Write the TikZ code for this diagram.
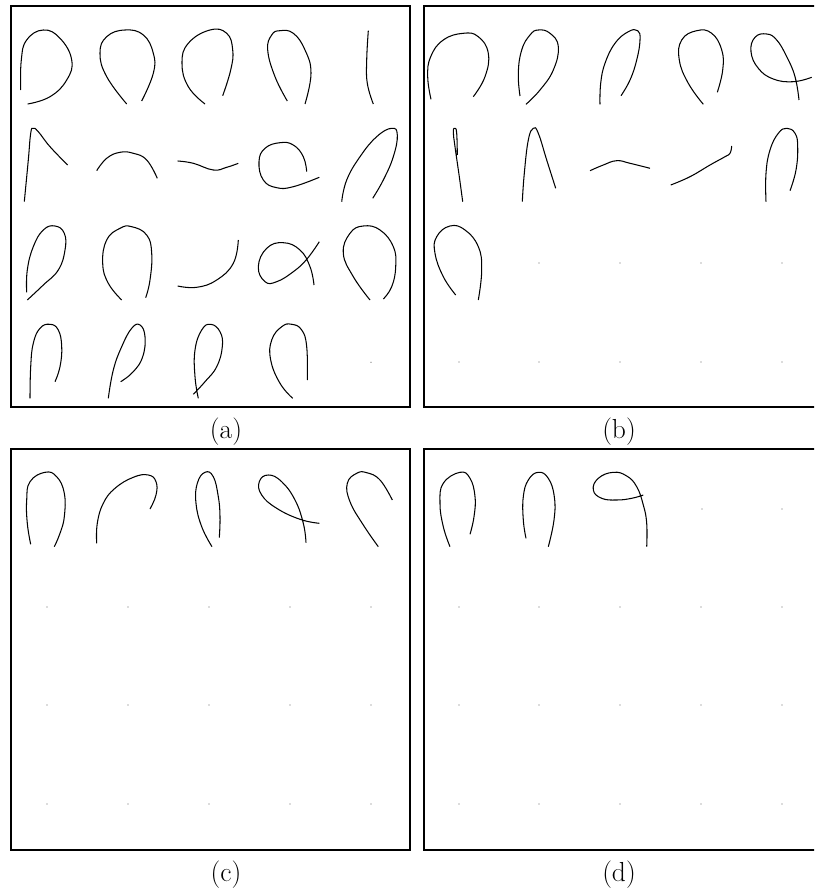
\documentclass[tikz,border=0pt]{standalone}
\usepackage{fontspec}
\begin{document}
\begin{tikzpicture}[x=1pt,y=-1pt,
  frame/.style={line width=2.2pt},
  stroke/.style={line width=1.05pt, smooth, tension=0.75},
  gdot/.style={fill=black!60},
  lab/.style={font=\fontsize{27.5}{32}\selectfont, inner sep=0pt}]
\useasboundingbox (0,0) rectangle (814,890);
\clip (0,0) rectangle (814,890);
% frames
\draw[frame] (11,6) rectangle (410,407);
\draw[frame] (424,6) rectangle (823,407);
\draw[frame] (11,449) rectangle (410,850);
\draw[frame] (424,449) rectangle (823,850);
% labels
\node[lab] (la) at (226,432) {(a)};
\node[lab] (lb) at (619,432) {(b)};
\node[lab] (lc) at (226,875) {(c)};
\node[lab] (ld) at (619,875) {(d)};
% ---------- panel a ----------
\draw[stroke] plot coordinates {(20.7,90) (21.3,60) (26.7,40) (43.3,30) (60,38.3) (71.7,60) (66.7,80) (50,96.7) (27.7,104)};
\draw[stroke] plot coordinates {(126.7,104) (106.7,76.7) (100,53.3) (106.7,36.7) (125,30) (143.3,35) (153.3,53.3) (153.3,73.3) (141.7,101)};
\draw[stroke] plot coordinates {(205,104) (188.3,86.7) (182,63.3) (188.3,43.3) (210,30) (226.7,33.3) (232.7,50) (230.7,70) (222.7,95.7)};
\draw[stroke] plot coordinates {(287.3,101) (275,76.7) (267.7,50) (271.7,35) (280,30.7) (293.3,33.3) (305,50) (311,73.3) (305,104)};
\draw[stroke] plot coordinates {(368.3,30.7) (366.7,60) (367.3,83.3) (373.3,104)};
\draw[stroke] plot coordinates {(24.3,201.7) (28.3,160) (30.7,133.3) (33.3,128.3) (38.3,131.7) (50,146.7) (67.7,165)};
\draw[stroke] plot coordinates {(96.7,170.7) (106.7,158.3) (120,152.3) (133.3,153.3) (146.7,160) (157.3,178.3)};
\draw[stroke] plot coordinates {(177.7,161) (193.3,163.3) (213.3,170) (226.7,167.3) (238.3,163.3)};
\draw[stroke] plot coordinates {(306.7,171.7) (303.3,156.7) (293.3,145) (280,142.7) (265,148.3) (259,161.7) (263.3,180) (276.7,187.7) (293.3,186.7) (319.3,177.3)};
\draw[stroke] plot coordinates {(341.7,201.7) (346.7,180) (360,156.7) (376.7,136.7) (391.7,128.3) (397.3,135) (393.3,156.7) (383.3,180) (372.7,198.3)};
\draw[stroke] plot coordinates {(26.7,292.3) (27.3,270) (33.3,246.7) (43.3,230) (55,226) (64.3,233.3) (65,250) (58.3,270) (43.3,285) (27.3,300)};
\draw[stroke] plot coordinates {(121.7,300) (108.3,283.3) (102.7,263.3) (106.7,240) (120,228.3) (131.7,226.7) (146.7,235) (151.7,253.3) (150,280) (145.7,297.7)};
\draw[stroke] plot coordinates {(177.7,286) (196.7,287.3) (216.7,280) (233.3,263.3) (238.3,240)};
\draw[stroke] plot coordinates {(314,285) (310,266.7) (300,250) (283.3,242.7) (266.7,248.3) (258.3,266.7) (265,281.7) (276.7,281.7) (293.3,271.7) (306.7,259.3) (319.3,241.7)};
\draw[stroke] plot coordinates {(370,300) (353.3,276.7) (343.3,253.3) (350,233.3) (363.3,226) (380,230) (393.3,246.7) (395.7,266.7) (391.7,286.7) (383.3,299)};
\draw[stroke] plot coordinates {(30,398.3) (30.7,366.7) (33.3,343.3) (40,328.3) (50,324.3) (58.3,330) (61.7,346.7) (60,366.7) (55,381.7)};
\draw[stroke] plot coordinates {(108.3,398.3) (113.3,370) (121.7,346.7) (131.7,328.3) (140,325) (145,336.7) (142.7,356.7) (133.3,371.7) (120.7,381.7)};
\draw[stroke] plot coordinates {(198.3,398.3) (195,376.7) (195,350) (201.7,330) (210.7,324.3) (220,331.7) (222.3,346.7) (216.7,366.7) (205,381.7) (193.3,394.3)};
\draw[stroke] plot coordinates {(292.7,398.3) (280,383.3) (270.7,360) (271.7,340) (281.7,326.7) (291.7,324.3) (301.7,330) (306.7,346.7) (307.3,380)};
\fill[gdot] (371,362.3) circle (0.6);
% ---------- panel b ----------
\draw[stroke] plot coordinates {(431,99.3) (427.7,76.7) (430.7,56.7) (443.3,40) (463.3,33.3) (478.3,36.7) (488.3,53.3) (485,76.7) (473.3,96.7)};
\draw[stroke] plot coordinates {(520,96) (518.3,73.3) (521.7,50) (530,35) (538.3,30) (550,33.3) (558.3,46.7) (553.3,70) (540,90) (526,104.3)};
\draw[stroke] plot coordinates {(600,104.3) (600.7,83.3) (605,63.3) (615,43.3) (628.3,31.7) (637.7,30.7) (640,40) (636.7,60) (630,80) (621,95.7)};
\draw[stroke] plot coordinates {(703.3,104.3) (688.3,83.3) (679.3,60) (681.7,40) (696.7,30.7) (711.7,33.3) (721.7,50) (722.7,70) (717.3,92.3)};
\draw[stroke] plot coordinates {(799,100) (795,76.7) (786.7,56.7) (776.7,40) (766.7,34) (755,37.3) (751,51.7) (758.3,68.3) (773.3,79) (793.3,81.7) (811.7,77.3)};
\draw[stroke] plot coordinates {(462.7,201.7) (459.3,176.7) (455,146.7) (453.3,131.7) (455,128.3) (456.7,133.3) (457.3,155)};
\draw[stroke] plot coordinates {(522.3,201.7) (524.3,173.3) (528.3,140) (533.3,128.3) (538.3,133.3) (546.7,160) (555.7,188.3)};
\draw[stroke] plot coordinates {(590,170.7) (603.3,165) (616.7,160.7) (630,163.3) (650,168.3)};
\draw[stroke] plot coordinates {(670.7,185) (690,176.7) (710,165) (725,156.7) (730,153.3) (731.7,146)};
\draw[stroke] plot coordinates {(766,201.7) (766,173.3) (770,150) (778.3,133.3) (786.7,128.3) (795,133.3) (797.7,146.7) (796,170) (790,190.7)};
\draw[stroke] plot coordinates {(455.7,295) (443.3,276.7) (435,253.3) (436.7,236.7) (450,226) (465,230) (478.3,246.7) (481.7,270) (478.3,300)};
\foreach \x in {539,620,701,782} \fill[gdot] (\x,263) circle (0.6);
\foreach \x in {459,539,620,701,782} \fill[gdot] (\x,362) circle (0.6);
% ---------- panel c ----------
\draw[stroke] plot coordinates {(30.7,544.3) (27.3,523.3) (26.7,500) (30,481.7) (45,472.3) (56.7,476.7) (64.3,493.3) (64.3,516.7) (60,533.3) (54.3,546.7)};
\draw[stroke] plot coordinates {(96.7,543.3) (97.3,523.3) (103.3,503.3) (115,488.3) (133.3,477.3) (148.3,475) (156,481.7) (156,495) (150,509)};
\draw[stroke] plot coordinates {(212,546.7) (201.7,526.7) (196,503.3) (197.3,483.3) (205,472.3) (213.3,476.7) (218.3,496.7) (220,516.7) (219.3,537.7)};
\draw[stroke] plot coordinates {(306,542.7) (303.3,523.3) (295,500) (281.7,481.7) (268.3,475) (259.3,481.7) (261.7,495) (276.7,508.3) (300,519.3) (319.3,523.3)};
\draw[stroke] plot coordinates {(378.3,546.7) (363.3,525) (350,501.7) (347.3,483.3) (356.7,473.3) (366.7,472.7) (380,480) (392.3,500)};
\foreach \y in {607,705,804}
  \foreach \x in {47,128,209,290,371} \fill[gdot] (\x,\y) circle (0.6);
% ---------- panel d ----------
\draw[stroke] plot coordinates {(450,546.7) (443.3,526.7) (440,503.3) (443.3,483.3) (460,472.3) (470,478.3) (475,496.7) (474,516.7) (470,534.3)};
\draw[stroke] plot coordinates {(526,538.3) (523.3,520) (523.3,496.7) (528.3,480) (538.3,472.3) (548.3,478.3) (554.3,496.7) (554,520) (548.3,546.7)};
\draw[stroke] plot coordinates {(646.7,546.7) (646.7,523.3) (643.3,505) (636.7,486.7) (626.7,476) (613.3,472.3) (598.3,478.3) (593.3,490) (601.7,498.3) (616.7,500) (631.7,498.3) (643.3,495)};
\foreach \x in {702,782} \fill[gdot] (\x,509) circle (0.6);
\foreach \y in {607,705,804}
  \foreach \x in {459,539,620,701,782} \fill[gdot] (\x,\y) circle (0.6);
\end{tikzpicture}
\end{document}
